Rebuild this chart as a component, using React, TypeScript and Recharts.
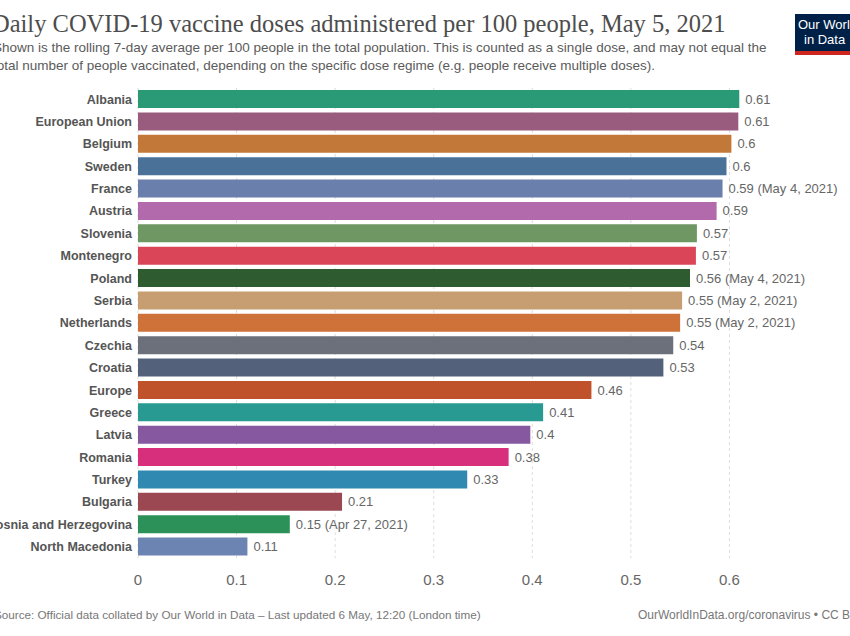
import { Bar, BarChart, CartesianGrid, Cell, LabelList, XAxis, YAxis } from "recharts"

const countries = [
  "Albania",
  "European Union",
  "Belgium",
  "Sweden",
  "France",
  "Austria",
  "Slovenia",
  "Montenegro",
  "Poland",
  "Serbia",
  "Netherlands",
  "Czechia",
  "Croatia",
  "Europe",
  "Greece",
  "Latvia",
  "Romania",
  "Turkey",
  "Bulgaria",
  "Bosnia and Herzegovina",
  "North Macedonia",
]

const doses = [
  0.61, 0.609, 0.602, 0.597, 0.593, 0.587, 0.567, 0.566, 0.56, 0.552, 0.55, 0.543, 0.533, 0.46, 0.411, 0.398,
  0.376, 0.334, 0.207, 0.154, 0.111,
]

const valueLabels = [
  "0.61",
  "0.61",
  "0.6",
  "0.6",
  "0.59 (May 4, 2021)",
  "0.59",
  "0.57",
  "0.57",
  "0.56 (May 4, 2021)",
  "0.55 (May 2, 2021)",
  "0.55 (May 2, 2021)",
  "0.54",
  "0.53",
  "0.46",
  "0.41",
  "0.4",
  "0.38",
  "0.33",
  "0.21",
  "0.15 (Apr 27, 2021)",
  "0.11",
]

const barColors = [
  "#2a9a76",
  "#9a5c7e",
  "#c27839",
  "#4a7298",
  "#6a7fab",
  "#b26aad",
  "#6e9763",
  "#da4658",
  "#2e5b2f",
  "#c79e71",
  "#cf7239",
  "#6c707a",
  "#53627a",
  "#c0522b",
  "#289a92",
  "#8558a0",
  "#d72f7c",
  "#2f89b0",
  "#9b4853",
  "#2b9159",
  "#6b84b1",
]

const xTicks = [0, 0.1, 0.2, 0.3, 0.4, 0.5, 0.6]
const xMax = 0.7

const data = countries.map((name, i) => ({ name, value: doses[i], label: valueLabels[i] }))

const sans = "'Liberation Sans', Arial, sans-serif"

// plain single-line tick so long names are not wrapped
function CountryTick({ x, y, payload }: any) {
  return (
    <text x={x} y={y} dy="0.35em" textAnchor="end" fill="#555" fontSize={12.5} fontWeight={700} fontFamily={sans}>
      {payload.value}
    </text>
  )
}

function ValueLabel({ x, y, width, height, value }: any) {
  return (
    <text x={x + width + 6} y={y + height / 2} dy="0.35em" fill="#666" fontSize={13} fontFamily={sans}>
      {value}
    </text>
  )
}

export default function App() {
  return (
    <div style={{ position: "absolute", left: 0, top: 0, width: 850, height: 636, background: "#fff", overflow: "hidden", fontFamily: sans }}>
      <div style={{ position: "absolute", left: -8, top: 10, fontFamily: "'Liberation Serif', 'DejaVu Serif', serif", fontSize: 24.5, color: "#4d4d4d", whiteSpace: "nowrap" }}>
        Daily COVID-19 vaccine doses administered per 100 people, May 5, 2021
      </div>
      <div style={{ position: "absolute", left: -7, top: 39, fontSize: 13.5, lineHeight: "18px", color: "#5b5b5b", whiteSpace: "nowrap" }}>
        Shown is the rolling 7-day average per 100 people in the total population. This is counted as a single dose, and may not equal the
        <br />
        total number of people vaccinated, depending on the specific dose regime (e.g. people receive multiple doses).
      </div>
      <div style={{ position: "absolute", left: 795, top: 14, width: 70, height: 34, background: "#002147", borderBottom: "4px solid #ce261e", color: "#fff", fontSize: 13, lineHeight: "15px", paddingTop: 3 }}>
        <div style={{ paddingLeft: 3 }}>Our World</div>
        <div style={{ paddingLeft: 9 }}>in Data</div>
      </div>

      <div style={{ position: "absolute", left: 0, top: 0 }}>
        <BarChart
          width={850}
          height={600}
          data={data}
          layout="vertical"
          margin={{ top: 88, right: 22, bottom: 12, left: 0 }}
          barSize={18}
        >
          <CartesianGrid
            horizontal={false}
            stroke="#dddddd"
            strokeDasharray="3 3"
            verticalCoordinatesGenerator={({ offset }: any) =>
              xTicks.map((t) => offset.left + (t / xMax) * offset.width)
            }
          />
          <XAxis
            type="number"
            domain={[0, xMax]}
            ticks={xTicks}
            height={30}
            axisLine={false}
            tickLine={false}
            tickMargin={10}
            tick={{ fill: "#666", fontSize: 15, fontFamily: sans }}
          />
          <YAxis
            type="category"
            dataKey="name"
            width={138}
            axisLine={false}
            tickLine={false}
            tickSize={0}
            tickMargin={6}
            interval={0}
            tick={<CountryTick />}
          />
          <Bar dataKey="value" isAnimationActive={false}>
            {data.map((d, i) => (
              <Cell key={d.name} fill={barColors[i]} />
            ))}
            <LabelList dataKey="label" content={<ValueLabel />} />
          </Bar>
        </BarChart>
      </div>

      <div style={{ position: "absolute", left: -6, top: 608, fontSize: 11.7, color: "#777", whiteSpace: "nowrap" }}>
        Source: Official data collated by Our World in Data – Last updated 6 May, 12:20 (London time)
      </div>
      <div style={{ position: "absolute", left: 638, top: 608, fontSize: 12, color: "#777", whiteSpace: "nowrap" }}>
        OurWorldInData.org/coronavirus • CC BY
      </div>
    </div>
  )
}
